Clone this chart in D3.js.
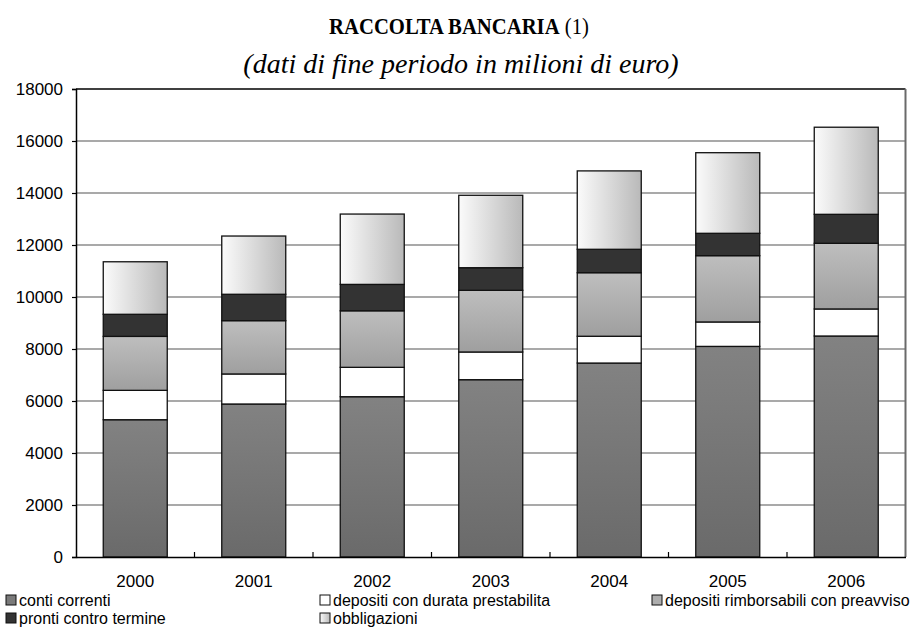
<!DOCTYPE html>
<html>
<head>
<meta charset="utf-8">
<script src="https://cdn.jsdelivr.net/npm/d3@7"></script>
<style>
  html, body { margin: 0; padding: 0; background: #fff; }
  svg { display: block; }
</style>
</head>
<body>
<div id="chart"></div>
<script>
// Raccolta bancaria, dati di fine periodo (milioni di euro)
const years = ["2000", "2001", "2002", "2003", "2004", "2005", "2006"];
const contiCorrenti        = [5280, 5885, 6165, 6820, 7460, 8100, 8500];
const depositiDurata       = [1130, 1155, 1130, 1065, 1030,  940, 1040];
const depositiRimborsabili = [2075, 2050, 2175, 2372, 2445, 2550, 2525];
const prontiControTermine  = [ 850, 1015, 1015,  870,  900,  860, 1115];
const obbligazioni         = [2020, 2240, 2705, 2785, 3015, 3100, 3350];
const yTicks = [0, 2000, 4000, 6000, 8000, 10000, 12000, 14000, 16000, 18000];

const seriesNames = [
  "conti correnti",
  "depositi con durata prestabilita",
  "depositi rimborsabili con preavviso",
  "pronti contro termine",
  "obbligazioni"
];
const seriesValues = [contiCorrenti, depositiDurata, depositiRimborsabili, prontiControTermine, obbligazioni];

const W = 919, H = 631;
const plot = { left: 76, right: 905.5, top: 89, bottom: 557 };
const sans = "'Liberation Sans', Arial, sans-serif";
const serif = "'Liberation Serif', 'Times New Roman', serif";

const svg = d3.select("#chart").append("svg")
  .attr("width", W).attr("height", H);

// Gradient fills
const defs = svg.append("defs");
function linGrad(id, x2, y2, stops) {
  const g = defs.append("linearGradient").attr("id", id)
    .attr("x1", 0).attr("y1", 0).attr("x2", x2).attr("y2", y2);
  stops.forEach(([o, c]) => g.append("stop").attr("offset", o).attr("stop-color", c));
}
linGrad("gConti", 0, 1, [[0, "#828282"], [1, "#6a6a6a"]]);
linGrad("gRimb", 0, 1, [[0, "#bebebe"], [1, "#9f9f9f"]]);
linGrad("gObbl", 1, 0, [[0, "#fbfbfb"], [1, "#b9b9b9"]]);

const fills = ["url(#gConti)", "#ffffff", "url(#gRimb)", "#333333", "url(#gObbl)"];
const legendFills = ["#7a7a7a", "#ffffff", "#adadad", "#333333", "url(#gObbl)"];

// Scales
const x = d3.scaleBand().domain(years)
  .range([plot.left, plot.right])
  .paddingInner(0.46).paddingOuter(0.23);
const y = d3.scaleLinear().domain([0, 18000]).range([plot.bottom, plot.top]);

// Stack
const table = years.map((yr, i) => {
  const row = { year: yr };
  seriesNames.forEach((n, k) => row[n] = seriesValues[k][i]);
  return row;
});
const stacked = d3.stack().keys(seriesNames)(table);

// Gridlines
svg.append("g")
  .selectAll("line")
  .data(yTicks.filter(t => t > 0 && t < 18000))
  .join("line")
  .attr("x1", plot.left).attr("x2", plot.right)
  .attr("y1", d => y(d)).attr("y2", d => y(d))
  .attr("stroke", "#8c8c8c").attr("stroke-width", 1.3);

// Frame: top border black, right border grey
svg.append("line")
  .attr("x1", plot.left).attr("x2", plot.right)
  .attr("y1", plot.top).attr("y2", plot.top)
  .attr("stroke", "#000").attr("stroke-width", 1.5);
svg.append("line")
  .attr("x1", plot.right).attr("x2", plot.right)
  .attr("y1", plot.top).attr("y2", plot.bottom)
  .attr("stroke", "#6a6a6a").attr("stroke-width", 2);

// Bars
svg.append("g")
  .selectAll("g")
  .data(stacked)
  .join("g")
  .attr("fill", (d, i) => fills[i])
  .selectAll("rect")
  .data(d => d)
  .join("rect")
  .attr("x", d => x(d.data.year))
  .attr("width", x.bandwidth())
  .attr("y", d => y(d[1]))
  .attr("height", d => y(d[0]) - y(d[1]))
  .attr("stroke", "#111")
  .attr("stroke-width", 1.3);

// Y axis
const yAxis = d3.axisLeft(y).tickValues(yTicks).tickSize(4).tickPadding(9)
  .tickFormat(d3.format("d"));
const gy = svg.append("g").attr("transform", `translate(${plot.left},0)`).call(yAxis);
gy.select(".domain").attr("stroke", "#000").attr("stroke-width", 1.5);
gy.selectAll(".tick line").attr("stroke", "#000").attr("stroke-width", 1.2);
gy.selectAll("text")
  .attr("font-family", sans)
  .attr("font-size", 17).attr("fill", "#000");

// X axis: labels centred on categories, small ticks between categories
const xAxis = d3.axisBottom(x).tickSize(0).tickPadding(18);
const gx = svg.append("g").attr("transform", `translate(0,${plot.bottom})`).call(xAxis);
gx.select(".domain").attr("stroke", "#000").attr("stroke-width", 1.5);
gx.selectAll("text")
  .attr("font-family", sans)
  .attr("font-size", 17).attr("fill", "#000");
svg.append("g")
  .selectAll("line")
  .data(years.slice(1))
  .join("line")
  .attr("x1", d => x(d) - x.step() * x.paddingInner() / 2)
  .attr("x2", d => x(d) - x.step() * x.paddingInner() / 2)
  .attr("y1", plot.bottom).attr("y2", plot.bottom - 5)
  .attr("stroke", "#000").attr("stroke-width", 1.2);

// Titles (title set slightly condensed)
const title = svg.append("text")
  .attr("transform", "translate(459,34) scale(0.9,1)")
  .attr("text-anchor", "middle")
  .attr("font-family", serif)
  .attr("font-size", 23);
title.append("tspan").attr("font-weight", "bold").text("RACCOLTA BANCARIA");
title.append("tspan").text(" (1)");

svg.append("text")
  .attr("x", 461).attr("y", 73)
  .attr("text-anchor", "middle")
  .attr("font-family", serif)
  .attr("font-style", "italic")
  .attr("font-size", 28)
  .text("(dati di fine periodo in milioni di euro)");

// Legend: two rows under the axis
const legendPos = [
  { x: 6, y: 595 }, { x: 320, y: 595 }, { x: 652, y: 595 },
  { x: 6, y: 613 }, { x: 320, y: 613 }
];
const lg = svg.append("g")
  .selectAll("g")
  .data(seriesNames)
  .join("g")
  .attr("transform", (d, i) => `translate(${legendPos[i].x},${legendPos[i].y})`);
lg.append("rect")
  .attr("width", 10).attr("height", 10)
  .attr("fill", (d, i) => legendFills[i])
  .attr("stroke", "#111").attr("stroke-width", 1);
lg.append("text")
  .attr("x", 13).attr("y", 10.5)
  .attr("font-family", sans)
  .attr("font-size", 16).attr("fill", "#000")
  .text(d => d);
</script>
</body>
</html>
